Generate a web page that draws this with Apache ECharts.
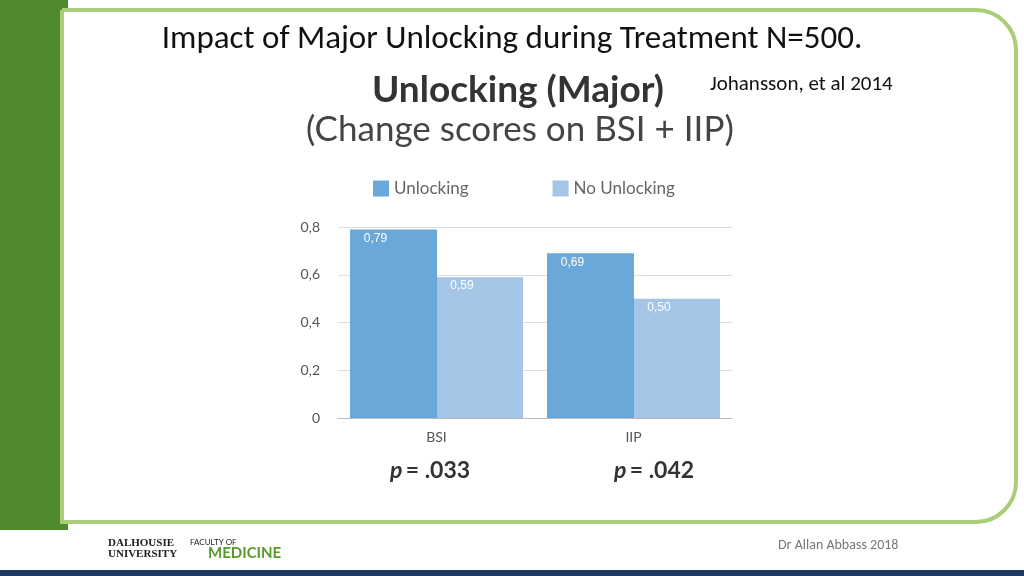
<!DOCTYPE html>
<html><head><meta charset="utf-8">
<script src="https://cdn.jsdelivr.net/npm/echarts@6/dist/echarts.min.js"></script>
<style>html,body{margin:0;padding:0;background:#fff}#c{width:1024px;height:576px}</style>
</head><body><div id="c"></div>
<script>
var categories = ['BSI', 'IIP'];
var unlocking = [0.79, 0.69];
var noUnlocking = [0.59, 0.50];
var pValues = ['.033', '.042'];
var yTicks = [0, 0.2, 0.4, 0.6, 0.8];

var myChart = echarts.init(document.getElementById('c'));
var font = 'Lato, "Open Sans", sans-serif';
var option = {
    backgroundColor: '#fff',
    animation: false,
    legend: {
        top: 175, left: 368, itemWidth: 16, itemHeight: 16, itemGap: 84,
        icon: 'rect',
        textStyle: {fontSize: 17, color: '#666', fontFamily: font},
        data: ['Unlocking', 'No Unlocking']
    },
    grid: {left: 338, right: 292, top: 227, bottom: 158},
    xAxis: {
        type: 'category', data: categories,
        axisLine: {lineStyle: {color: '#bbb'}}, axisTick: {show: false},
        axisLabel: {fontSize: 14, color: '#555', margin: 12, fontFamily: font}
    },
    yAxis: {
        type: 'value', min: 0, max: 0.8, interval: 0.2,
        axisLabel: {fontSize: 14, color: '#555', margin: 18, fontFamily: font,
            formatter: function (v) { return v === 0 ? '0' : v.toFixed(1).replace('.', ','); }},
        splitLine: {lineStyle: {color: '#ddd'}}
    },
    series: [
        {name: 'Unlocking', type: 'bar', data: unlocking, barGap: 0, barWidth: 87,
         itemStyle: {color: '#6aa8da'},
         label: {show: true, position: 'insideTop', color: '#fff', fontSize: 12, offset: [-18, -2],
             formatter: function (p) { return p.value.toFixed(2).replace('.', ','); }}},
        {name: 'No Unlocking', type: 'bar', data: noUnlocking, barWidth: 86,
         itemStyle: {color: '#a4c5e5'},
         label: {show: true, position: 'insideTop', color: '#fff', fontSize: 12, offset: [-18, -2],
             formatter: function (p) { return p.value.toFixed(2).replace('.', ','); }}}
    ],
    graphic: [
        {type: 'rect', shape: {x: 0, y: 0, width: 68, height: 530}, style: {fill: '#4f8a2f'}},
        {type: 'rect', shape: {x: 62, y: 10, width: 954, height: 512, r: [0, 40, 40, 0]},
         style: {fill: '#fff', stroke: '#a9cd78', lineWidth: 4}},
        {type: 'rect', shape: {x: 0, y: 570, width: 1024, height: 6}, style: {fill: '#1f3864'}},
        {type: 'text', left: 'center', top: 23, style: {text: 'Impact of Major Unlocking during Treatment N=500.', fontSize: 33, fill: '#111', fontFamily: 'Carlito, "Liberation Sans", sans-serif'}},
        {type: 'text', x: 372, y: 72, style: {text: 'Unlocking (Major)', fontSize: 37, fontWeight: 'bold', fill: '#333', fontFamily: font}},
        {type: 'text', x: 306, y: 112, style: {text: '(Change scores on BSI + IIP)', fontSize: 35, fill: '#444', fontFamily: font}},
        {type: 'text', x: 710, y: 74, style: {text: 'Johansson, et al 2014', fontSize: 21, fill: '#111', fontFamily: 'Carlito, "Liberation Sans", sans-serif'}},
        {type: 'text', x: 390, y: 459, style: {rich: {p: {fontStyle: 'italic', fontSize: 23, fontWeight: 'bold', fill: '#333', fontFamily: font}, v: {fontSize: 23, fontWeight: 'bold', fill: '#333', fontFamily: font}}, text: '{p|p} {v|= ' + pValues[0] + '}'}},
        {type: 'text', x: 614, y: 459, style: {rich: {p: {fontStyle: 'italic', fontSize: 23, fontWeight: 'bold', fill: '#333', fontFamily: font}, v: {fontSize: 23, fontWeight: 'bold', fill: '#333', fontFamily: font}}, text: '{p|p} {v|= ' + pValues[1] + '}'}},
        {type: 'text', x: 778, y: 538, style: {text: 'Dr Allan Abbass 2018', fontSize: 14, fill: '#777', fontFamily: 'Carlito, "Liberation Sans", sans-serif'}},
        {type: 'text', x: 108, y: 538, style: {text: 'DALHOUSIE\nUNIVERSITY', fontSize: 11, fontWeight: 'bold', fill: '#222', fontFamily: 'serif', lineHeight: 11}},
        {type: 'text', x: 190, y: 538, style: {text: 'FACULTY OF', fontSize: 8, fill: '#222', fontFamily: font}},
        {type: 'text', x: 208, y: 546, style: {text: 'MEDICINE', fontSize: 15, fontWeight: 'bold', fill: '#5a9a2a', fontFamily: font}}
    ]
};
myChart.setOption(option, true);
</script></body></html>
